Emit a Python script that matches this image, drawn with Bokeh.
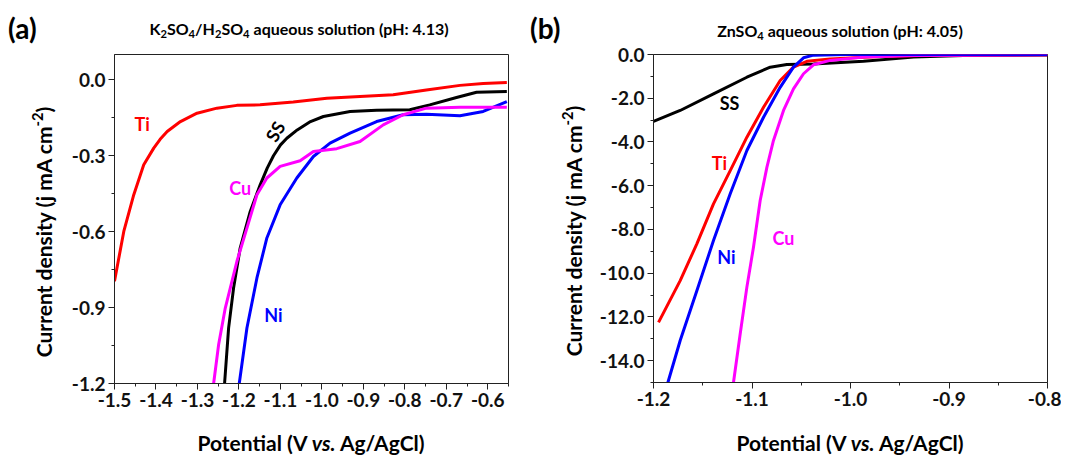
import math
from bokeh.plotting import figure
from bokeh.layouts import row, column
from bokeh.models import Label, FixedTicker, PrintfTickFormatter, Range1d, Div
from bokeh.embed import file_html
from bokeh.resources import INLINE

# ---------------- Panel (a): K2SO4/H2SO4 ----------------
a_ti_x = [-1.5, -1.4776, -1.4535, -1.4295, -1.4054, -1.39, -1.373, -1.341, -1.301, -1.253, -1.205, -1.149,
          -1.069, -0.988, -0.908, -0.828, -0.748, -0.667, -0.611, -0.554]
a_ti_y = [-0.796, -0.599, -0.454, -0.336, -0.27, -0.235, -0.204, -0.165, -0.132, -0.112, -0.101, -0.099,
          -0.088, -0.073, -0.066, -0.059, -0.040, -0.022, -0.015, -0.011]

a_ss_x = [-1.2346, -1.2249, -1.2129, -1.197, -1.1727, -1.1487, -1.1318, -1.1167, -1.0997, -1.0845,
          -1.0594, -1.0274, -0.9963, -0.932, -0.868, -0.788, -0.740, -0.6754, -0.627, -0.554]
a_ss_y = [-1.2, -0.981, -0.823, -0.665, -0.520, -0.415, -0.349, -0.300, -0.257, -0.231,
          -0.198, -0.165, -0.145, -0.125, -0.120, -0.118, -0.099, -0.070, -0.049, -0.046]

a_cu_x = [-1.261, -1.2489, -1.2329, -1.2048, -1.1807, -1.1566, -1.1326, -1.1006, -1.0524, -1.0204,
          -0.964, -0.908, -0.852, -0.804, -0.748, -0.667, -0.554]
a_cu_y = [-1.2, -1.046, -0.902, -0.717, -0.586, -0.454, -0.388, -0.342, -0.320, -0.283,
          -0.272, -0.244, -0.178, -0.138, -0.112, -0.108, -0.108]

a_ni_x = [-1.1992, -1.1807, -1.1566, -1.1326, -1.1006, -1.0604, -1.0204, -0.9803, -0.932, -0.868,
          -0.804, -0.748, -0.667, -0.611, -0.554]
a_ni_y = [-1.2, -0.981, -0.783, -0.625, -0.494, -0.388, -0.303, -0.250, -0.211, -0.165,
          -0.138, -0.136, -0.142, -0.125, -0.086]

a_xticks = [-1.5, -1.4, -1.3, -1.2, -1.1, -1.0, -0.9, -0.8, -0.7, -0.6]
a_xminor = [-1.45, -1.35, -1.25, -1.15, -1.05, -0.95, -0.85, -0.75, -0.65, -0.55]
a_yticks = [-1.2, -0.9, -0.6, -0.3, 0.0]
a_yminor = [-1.05, -0.75, -0.45, -0.15]

# ---------------- Panel (b): ZnSO4 ----------------
b_ss_x = [-1.2, -1.1729, -1.1391, -1.1052, -1.0815, -1.0646, -1.0376, -0.9868, -0.936, -0.8853, -0.8]
b_ss_y = [-3.06, -2.56, -1.80, -1.04, -0.58, -0.46, -0.43, -0.31, -0.12, -0.05, -0.02]

b_ti_x = [-1.1949, -1.1729, -1.156, -1.1391, -1.1221, -1.1052, -1.0883, -1.0714, -1.0579, -1.0443,
          -1.0206, -0.9699, -0.92, -0.8]
b_ti_y = [-12.25, -10.34, -8.66, -6.83, -5.31, -3.78, -2.41, -1.19, -0.58, -0.31,
          -0.20, -0.09, -0.03, -0.01]

b_ni_x = [-1.1854, -1.1729, -1.156, -1.1391, -1.1221, -1.1052, -1.0883, -1.0714, -1.0579, -1.0477,
          -1.0376, -1.004, -0.8]
b_ni_y = [-15.0, -13.08, -10.80, -8.51, -6.37, -4.39, -2.87, -1.50, -0.58, -0.15,
          -0.03, 0.0, 0.0]

b_cu_x = [-1.1188, -1.112, -1.1052, -1.0985, -1.0917, -1.0849, -1.0782, -1.068, -1.0579, -1.0477,
          -1.0376, -1.0206, -0.9868, -0.936, -0.8]
b_cu_y = [-15.0, -12.78, -10.64, -8.81, -6.68, -5.16, -3.93, -2.56, -1.57, -0.88,
          -0.47, -0.27, -0.12, -0.05, -0.01]

b_xticks = [-1.2, -1.1, -1.0, -0.9, -0.8]
b_xminor = [-1.15, -1.05, -0.95, -0.85]
b_yticks = [-14.0, -12.0, -10.0, -8.0, -6.0, -4.0, -2.0, 0.0]
b_yminor = [-15.0, -13.0, -11.0, -9.0, -7.0, -5.0, -3.0, -1.0]

title_a = "K<sub>2</sub>SO<sub>4</sub>/H<sub>2</sub>SO<sub>4</sub> aqueous solution (pH: 4.13)"
title_b = "ZnSO<sub>4</sub> aqueous solution (pH: 4.05)"
tags = ["(a)", "(b)"]
ylabel = "Current density (j mA cm<sup>-2</sup>)"
xlabel = "Potential (V <i>vs.</i> Ag/AgCl)"

FONT = "Lato"
RED, BLACK, BLUE, MAG = "#FF0000", "#000000", "#0000FF", "#FF00FF"
SUB = '<sub style="font-size:0.7em;vertical-align:-0.3em;line-height:0">'
SUP = '<sup style="font-size:0.7em;vertical-align:0.55em;line-height:0">'


def style(p, xt, xm, yt, ym):
    p.xaxis.ticker = FixedTicker(ticks=xt, minor_ticks=xm)
    p.yaxis.ticker = FixedTicker(ticks=yt, minor_ticks=ym)
    p.xaxis.formatter = PrintfTickFormatter(format="%.1f")
    p.yaxis.formatter = PrintfTickFormatter(format="%.1f")
    for ax in (p.xaxis, p.yaxis):
        ax.axis_line_color = "#222222"
        ax.axis_line_width = 1
        ax.major_tick_line_color = "#222222"
        ax.minor_tick_line_color = "#222222"
        ax.major_tick_out = 6
        ax.major_tick_in = 0
        ax.minor_tick_out = 3
        ax.minor_tick_in = 0
        ax.major_label_text_font = FONT
        ax.major_label_text_font_style = "bold"
        ax.major_label_text_font_size = "19px"
        ax.major_label_text_color = "#111111"
        ax.major_label_standoff = 3
    p.xgrid.visible = False
    p.ygrid.visible = False
    p.outline_line_color = "#222222"
    p.outline_line_width = 1
    p.background_fill_color = "white"
    p.border_fill_color = None


def lbl(p, x, y, text, size, color=BLACK, angle=0.0):
    p.add_layout(Label(x=x, y=y, text=text, text_font=FONT, text_font_style="bold",
                       text_font_size=size, text_color=color, text_align="center",
                       text_baseline="middle", angle=angle))


def span(x, y, html, size, align="center", rotate=False):
    tx = "-50%" if align == "center" else "0"
    rot = " rotate(-90deg)" if rotate else ""
    return (f'<span style="position:absolute;left:{x}px;top:{y}px;white-space:nowrap;'
            f'font-size:{size}px;line-height:1;transform:translate({tx},-50%){rot};">{html}</span>')


def box(w, h, inner):
    return (f'<div style="position:relative;width:{w}px;height:{h}px;font-family:{FONT};'
            f'font-weight:bold;color:#000;overflow:visible;">{inner}</div>')


def mkdiv(w, h, inner):
    return Div(text=box(w, h, inner), width=w, height=h, margin=0,
               styles={"overflow": "visible"})


LW = 3

# ---------- figure (a) ----------
p1 = figure(frame_width=394, frame_height=329, min_border_left=56, min_border_right=24,
            min_border_top=15, min_border_bottom=35,
            x_range=Range1d(-1.5, -0.55), y_range=Range1d(-1.2, 0.1),
            output_backend="svg", toolbar_location=None)
style(p1, a_xticks, a_xminor, a_yticks, a_yminor)
p1.line(a_ti_x, a_ti_y, line_color=RED, line_width=LW, line_join="round")
p1.line(a_ss_x, a_ss_y, line_color=BLACK, line_width=LW, line_join="round")
p1.line(a_ni_x, a_ni_y, line_color=BLUE, line_width=LW, line_join="round")
p1.line(a_cu_x, a_cu_y, line_color=MAG, line_width=LW, line_join="round")

lbl(p1, -1.4334, -0.175, "Ti", "18px", RED)
lbl(p1, -1.1126, -0.204, "SS", "18px", BLACK, angle=math.radians(60))
lbl(p1, -1.197, -0.428, "Cu", "18px", MAG)
lbl(p1, -1.1167, -0.928, "Ni", "18px", BLUE)

# ---------- figure (b) ----------
p2 = figure(frame_width=394, frame_height=328, min_border_left=63, min_border_right=14,
            min_border_top=16, min_border_bottom=35,
            x_range=Range1d(-1.2, -0.8), y_range=Range1d(-15.0, 0.0),
            output_backend="svg", toolbar_location=None)
style(p2, b_xticks, b_xminor, b_yticks, b_yminor)
p2.line(b_ss_x, b_ss_y, line_color=BLACK, line_width=LW, line_join="round")
p2.line(b_ti_x, b_ti_y, line_color=RED, line_width=LW, line_join="round")
p2.line(b_cu_x, b_cu_y, line_color=MAG, line_width=LW, line_join="round")
p2.line(b_ni_x, b_ni_y, line_color=BLUE, line_width=LW, line_join="round")

lbl(p2, -1.1228, -2.24, "SS", "18px", BLACK)
lbl(p2, -1.133, -4.98, "Ti", "18px", RED)
lbl(p2, -1.1259, -9.24, "Ni", "18px", BLUE)
lbl(p2, -1.068, -8.41, "Cu", "18px", MAG)

# ---------- text panels (HTML, so sub/superscripts and italics stay real text) ----------
t_a = title_a.replace("<sub>", SUB)
t_b = title_b.replace("<sub>", SUB)
yl = ylabel.replace("<sup>", SUP)

top = mkdiv(1061, 38,
            span(8, 28, tags[0], 28, align="left") +
            span(299, 29, t_a, 16) +
            span(530, 28, tags[1], 28, align="left") +
            span(840, 31, t_b, 16))
bottom = mkdiv(1061, 30, span(311, 25, xlabel, 21) + span(850, 25, xlabel, 21))
ydiv_a = mkdiv(58, 379, span(43, 194, yl, 21, rotate=True))
ydiv_b = mkdiv(58, 379, span(41, 193, yl, 21, rotate=True))

layout = column(top, row(ydiv_a, p1, ydiv_b, p2, spacing=0), bottom, spacing=0)
open("out.html", "w").write(file_html(layout, INLINE))
